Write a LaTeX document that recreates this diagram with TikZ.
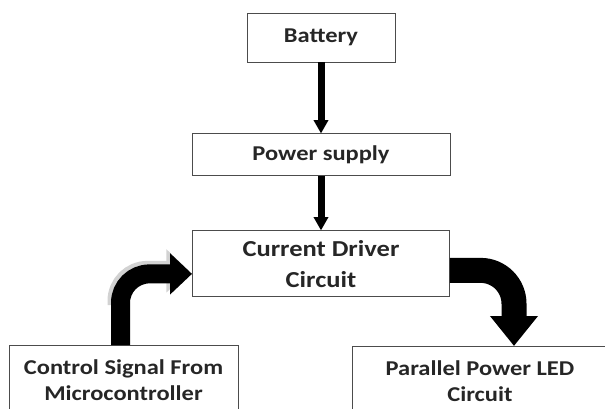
\documentclass[tikz,border=0pt]{standalone}
\usepackage{fontspec}
\setmainfont{Carlito}[FakeStretch=1.16]
\usetikzlibrary{arrows.meta,positioning,calc}

\begin{document}
\begin{tikzpicture}[
    x=0.03cm, y=-0.03cm,
    every node/.style={font=\fontsize{18}{22}\selectfont\bfseries, text=black!85},
    box/.style={rectangle, draw=black!70, line width=0.8pt, align=center, inner sep=0pt},
    arr/.style={-{Triangle[width=0.42cm, length=0.4cm]}, line width=0.21cm},
    fatarr/.style={line width=#1, line cap=butt},
    halo/.style={draw=gray!35},
]
\clip (0,0) rectangle (605,408);

% supply chain, top to bottom
\node[box, minimum width=4.44cm, minimum height=1.47cm] (bat) at (321,37.5) {Battery};
\node[box, minimum width=7.74cm, minimum height=1.26cm, below=2.13cm of bat] (pow) {Power supply};
\node[box, minimum width=7.71cm, minimum height=1.98cm, below=1.62cm of pow,
      font=\fontsize{19.5}{26}\selectfont\bfseries] (cur) {Current Driver\\Circuit};

% bottom row
\node[box, minimum width=6.87cm, minimum height=2.1cm, anchor=north] (ctrl) at (123.5,345)
  {Control Signal From\\Microcontroller};
\node[box, minimum width=7.68cm, minimum height=2.1cm, anchor=north] (led) at (480,346)
  {Parallel Power LED\\Circuit};

% straight arrows
\draw[arr] (bat.south) -- (bat.south |- pow.north);
\draw[arr] (pow.south) -- (pow.south |- cur.north);

% bent arrows
\draw[fatarr=0.6cm, halo, rounded corners=0.9cm, -{Triangle[width=1.26cm, length=0.68cm]}]
  ($(ctrl.north)+(-6,-40)$) |- ($(cur.west)+(-3,7)$);
\draw[fatarr=0.57cm, rounded corners=0.87cm, -{Triangle[width=1.2cm, length=0.66cm]}]
  ($(ctrl.north)+(-3,0)$) |- ($(cur.west)+(0,10)$);
\draw[fatarr=0.75cm, rounded corners=1cm, -{Triangle[width=1.38cm, length=0.9cm]}]
  ($(cur.east)+(0,6.5)$) -| ($(led.north)+(34,0)$);

\end{tikzpicture}
\end{document}
